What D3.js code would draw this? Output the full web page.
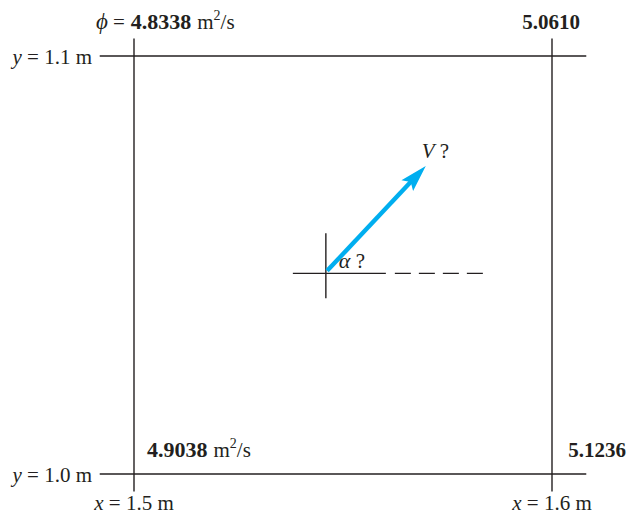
<!DOCTYPE html>
<html><head><meta charset="utf-8">
<script src="https://cdn.jsdelivr.net/npm/d3@7"></script>
<style>body{margin:0;background:#fff}svg{display:block}text{font-family:"Liberation Serif","Times New Roman",serif;font-size:21px;fill:#231f20}</style>
</head><body><svg id="c" width="627" height="516"></svg>
<script>
// Data
const xGrid = [1.5, 1.6];            // m
const yGrid = [1.0, 1.1];            // m
const phiValues = [                   // corner potentials, m^2/s
  {x: 1.5, y: 1.1, v: "4.8338"},
  {x: 1.6, y: 1.1, v: "5.0610"},
  {x: 1.5, y: 1.0, v: "4.9038"},
  {x: 1.6, y: 1.0, v: "5.1236"}
];
const xLabels = ["x = 1.5 m", "x = 1.6 m"];
const yLabels = ["y = 1.0 m", "y = 1.1 m"];
const arrowFrom = [1.5462, 1.0486];
const arrowTo = [1.5698, 1.0737];
const crossAt = [1.5459, 1.0480];

const svg = d3.select("#c");
const x = d3.scaleLinear().domain([1.5, 1.6]).range([134, 552]);
const y = d3.scaleLinear().domain([1.0, 1.1]).range([474, 56]);
const ext = 0.0082; // grid line overhang in data units

const g = svg.append("g").attr("stroke", "#231f20").attr("stroke-width", 1.4);
yGrid.forEach(v => g.append("line")
  .attr("x1", x(1.5 - ext)).attr("x2", x(1.6 + ext)).attr("y1", y(v)).attr("y2", y(v)));
xGrid.forEach(v => g.append("line")
  .attr("y1", y(1.1 + 0.0042)).attr("y2", y(1.0 - 0.0042)).attr("x1", x(v)).attr("x2", x(v)));

// y labels
yGrid.forEach((v, i) => {
  const t = svg.append("text").attr("x", x(1.5) - 42).attr("y", y(v) + 8).attr("text-anchor", "end");
  const parts = yLabels[i].split(" ");
  t.append("tspan").attr("font-style", "italic").text(parts[0]);
  t.append("tspan").text(" " + parts.slice(1).join(" "));
});
// x labels
xGrid.forEach((v, i) => {
  const t = svg.append("text").attr("x", x(v)).attr("y", y(1.0) + 36).attr("text-anchor", "middle");
  const parts = xLabels[i].split(" ");
  t.append("tspan").attr("font-style", "italic").text(parts[0]);
  t.append("tspan").text(" " + parts.slice(1).join(" "));
});

function unit(t, dx) {
  t.append("tspan").attr("dx", dx).text("m");
  t.append("tspan").attr("font-size", "14px").attr("dy", -9).text("2");
  t.append("tspan").attr("dy", 9).text("/s");
}
// corner values
const p0 = phiValues[0];
let t = svg.append("text").attr("x", x(p0.x) - 38).attr("y", y(p0.y) - 27);
t.append("tspan").attr("font-style", "italic").attr("font-size", "23px").text("\u03d5");
t.append("tspan").attr("dx", 5).text("=");
t.append("tspan").attr("dx", 6).attr("font-weight", "bold").attr("font-size", "22px").text(p0.v);
unit(t, 6);

const p1 = phiValues[1];
svg.append("text").attr("x", x(p1.x) + 28).attr("y", y(p1.y) - 27)
  .attr("text-anchor", "end").attr("font-weight", "bold").text(p1.v);

const p2 = phiValues[2];
t = svg.append("text").attr("x", x(p2.x) + 13).attr("y", y(p2.y) - 17);
t.append("tspan").attr("font-weight", "bold").attr("font-size", "22px").text(p2.v);
unit(t, 6);

const p3 = phiValues[3];
svg.append("text").attr("x", x(p3.x) + 74).attr("y", y(p3.y) - 17)
  .attr("text-anchor", "end").attr("font-weight", "bold").text(p3.v);

// cross at point
const cx = x(crossAt[0]), cy = y(crossAt[1]);
g.append("line").attr("x1", cx).attr("x2", cx).attr("y1", cy - 40).attr("y2", cy + 25);
g.append("line").attr("x1", cx - 33).attr("x2", cx + 60).attr("y1", cy).attr("y2", cy);
g.append("line").attr("x1", cx + 69).attr("x2", cx + 157).attr("y1", cy).attr("y2", cy)
  .attr("stroke-dasharray", "16,8");

// arrow
const ax0 = x(arrowFrom[0]), ay0 = y(arrowFrom[1]);
const ax1 = x(arrowTo[0]), ay1 = y(arrowTo[1]);
const ang = Math.atan2(ay1 - ay0, ax1 - ax0);
const headL = 22, headW = 8;
const bx = ax1 - headL * Math.cos(ang), by = ay1 - headL * Math.sin(ang);
const blue = "#00aeef";
svg.append("line").attr("x1", ax0).attr("y1", ay0).attr("x2", bx + 3 * Math.cos(ang)).attr("y2", by + 3 * Math.sin(ang))
  .attr("stroke", blue).attr("stroke-width", 4.4);
const nx = -Math.sin(ang), ny = Math.cos(ang);
const notch = 5;
svg.append("path").attr("fill", blue).attr("d", d3.line()([
  [ax1, ay1],
  [bx - notch * Math.cos(ang) + headW * nx, by - notch * Math.sin(ang) + headW * ny],
  [bx, by],
  [bx - notch * Math.cos(ang) - headW * nx, by - notch * Math.sin(ang) - headW * ny]
]) + "Z");

// labels
t = svg.append("text").attr("x", ax1 - 4).attr("y", ay1 - 8);
t.append("tspan").attr("font-style", "italic").text("V");
t.append("tspan").text(" ?");
t = svg.append("text").attr("x", cx + 13).attr("y", cy - 5);
t.append("tspan").attr("font-style", "italic").attr("font-size", "22px").text("\u03b1");
t.append("tspan").text(" ?");
</script></body></html>
